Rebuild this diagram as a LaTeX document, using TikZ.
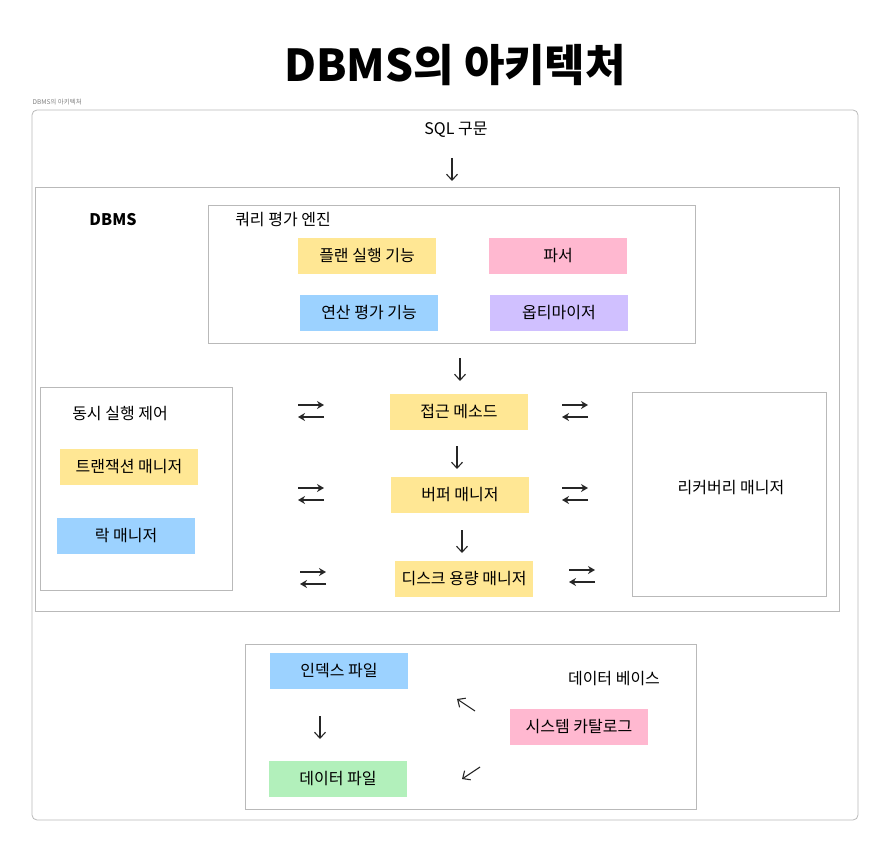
\documentclass[tikz,border=0pt]{standalone}
\usepackage{fontspec}
\setmainfont{Noto Sans CJK KR}
\usetikzlibrary{arrows.meta}

\definecolor{noteyellow}{HTML}{FFE794}
\definecolor{notepink}{HTML}{FFB8D0}
\definecolor{noteblue}{HTML}{9CD2FF}
\definecolor{notepurple}{HTML}{D0C0FF}
\definecolor{notegreen}{HTML}{B2F0BB}

\tikzset{
  note/.style={minimum width=138pt, minimum height=36pt, inner sep=0pt, font=\fontsize{16}{18}\selectfont},
  frame/.style={draw=gray!55, line width=0.8pt},
  label/.style={font=\fontsize{16}{18}\selectfont},
  down/.style={-{Straight Barb[length=6pt,width=11pt]}, line width=1.1pt, black!85},
  swap/.style={-{Stealth[length=7pt,width=8pt]}, line width=1.8pt, black!85}
}

\begin{document}
\begin{tikzpicture}[x=1pt,y=-1pt]
  \useasboundingbox (0,0) rectangle (877,842);

  % Title
  \node (title) at (455,65) {\fontsize{44}{48}\selectfont\bfseries DBMS의 아키텍처};
  \node[anchor=west, gray, font=\fontsize{6.5}{8}\selectfont] (tag) at (29,102) {DBMS의 아키텍처};

  % Frames
  \draw[frame, rounded corners=5pt] (32,110) rectangle (858,820);
  \draw[frame] (35,187) rectangle (839,611);
  \draw[frame] (208,205) rectangle (695,343);
  \draw[frame] (40,387) rectangle (232,590);
  \draw[frame] (632,392) rectangle (826,596);
  \draw[frame] (245,644) rectangle (696,809);

  % Labels
  \node[label] (sql) at (456,130) {SQL 구문};
  \node[label, font=\fontsize{16}{18}\selectfont\bfseries] (dbms) at (113,220) {DBMS};
  \node[label] (engine) at (283,220) {쿼리 평가 엔진};
  \node[label] (conc) at (120,414) {동시 실행 제어};
  \node[label] (recov) at (731,488) {리커버리 매니저};
  \node[label] (db) at (614,679) {데이터 베이스};

  % Query engine parts
  \node[note, fill=noteyellow] (plan) at (367,256) {플랜 실행 기능};
  \node[note, fill=notepink] (parser) at (558,256) {파서};
  \node[note, fill=noteblue] (oper) at (369,313) {연산 평가 기능};
  \node[note, fill=notepurple] (optim) at (559,313) {옵티마이저};

  % Middle stack
  \node[note, fill=noteyellow] (access) at (459,412) {접근 메소드};
  \node[note, fill=noteyellow] (buffer) at (460,495) {버퍼 매니저};
  \node[note, fill=noteyellow] (disk) at (464,579) {디스크 용량 매니저};

  % Concurrency parts
  \node[note, fill=noteyellow] (trans) at (129,467) {트랜잭션 매니저};
  \node[note, fill=noteblue] (lock) at (126,536) {락 매니저};

  % Database parts
  \node[note, fill=noteblue] (index) at (339,671) {인덱스 파일};
  \node[note, fill=notegreen] (data) at (338,779) {데이터 파일};
  \node[note, fill=notepink] (catalog) at (579,727) {시스템 카탈로그};

  % Down arrows
  \coordinate (a1) at (452,158); \coordinate (b1) at (452,181);
  \coordinate (a2) at (460,358); \coordinate (b2) at (460,381);
  \coordinate (a3) at (457,446); \coordinate (b3) at (457,469);
  \coordinate (a4) at (462,530); \coordinate (b4) at (462,553);
  \coordinate (a5) at (320,716); \coordinate (b5) at (320,739);
  \foreach \i in {1,...,5}
    \draw[down] (a\i) -- (b\i);

  % Arrows to the catalog
  \coordinate (c1) at (475,711); \coordinate (d1) at (457,699);
  \coordinate (c2) at (480,767); \coordinate (d2) at (462,779);
  \draw[down] (c1) -- (d1);
  \draw[down] (c2) -- (d2);

  % Two-way arrows
  \foreach \x/\y in {298/405, 298/488, 300/572, 562/405, 562/488, 569/570}{
    \draw[swap] (\x,\y) -- (\x+26,\y);
    \draw[swap] (\x+26,\y+12) -- (\x,\y+12);
  }
\end{tikzpicture}
\end{document}
